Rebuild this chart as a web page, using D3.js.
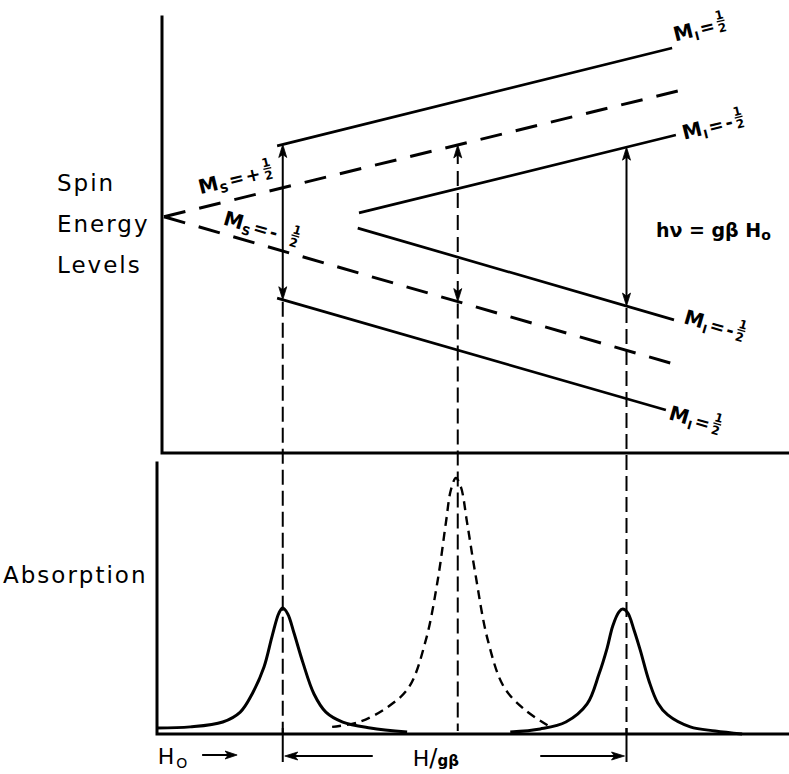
<!DOCTYPE html>
<html>
<head>
<meta charset="utf-8">
<script src="https://cdn.jsdelivr.net/npm/d3@7"></script>
<style>
  html, body { margin: 0; padding: 0; background: #fff; }
  svg { display: block; }
  text { font-family: "DejaVu Sans", "Liberation Sans", sans-serif; fill: #000; }
</style>
</head>
<body>
<svg id="chart" width="789" height="774"></svg>
<script>
// ---------------------------------------------------------------
// Hyperfine splitting of an S = 1/2, I = 1/2 system and the
// resulting absorption spectrum. Field H in arbitrary units,
// energy E in arbitrary units, absorption normalised to 1.
// ---------------------------------------------------------------

// Fields at which the three lines are drawn (H units)
const resonanceFields = [19, 47, 74];

// Electron Zeeman levels without hyperfine coupling (dashed): [H0, E0, H1, E1]
const electronLevels = [
  [0, 54.3, 82.2, 83.2],   // M_S = +1/2
  [0, 54.3, 81.0, 20.7]    // M_S = -1/2
];

// Hyperfine levels (solid): [H0, E0, H1, E1]
const hyperfineLevels = [
  [18.1, 70.6, 81.3, 93.1], // M_S = +1/2, M_I = +1/2
  [31.2, 55.2, 81.9, 73.1], // M_S = +1/2, M_I = -1/2
  [31.0, 51.7, 81.6, 30.6], // M_S = -1/2, M_I = -1/2
  [18.1, 35.6, 80.3, 9.9]   // M_S = -1/2, M_I = +1/2
];

// Level labels: text parts and anchor (H, E)
const levelLabelText = [
  { sub: "I", sign: "",  anchor: [81.8, 94.6] },
  { sub: "I", sign: "-", anchor: [83.2, 72.0] },
  { sub: "I", sign: "-", anchor: [83.0, 29.9] },
  { sub: "I", sign: "",  anchor: [80.6, 7.8] },
  { sub: "S", sign: "+", anchor: [5.8, 59.5] },
  { sub: "S", sign: "-", anchor: [9.3, 52.6] }
];

// Absorption traces, points [H, A]
const absorptionLow = [
  [-1.1, 0.020], [4.2, 0.024], [9.4, 0.043], [12.2, 0.082], [14.1, 0.153],
  [16.0, 0.259], [17.3, 0.380], [18.4, 0.471], [19.0, 0.490], [19.8, 0.467],
  [20.8, 0.392], [22.2, 0.278], [24.0, 0.153], [25.9, 0.082], [28.6, 0.043],
  [33.0, 0.020], [38.9, 0.004]
];
const absorptionCentre = [
  [26.9, 0.024], [31.2, 0.043], [35.8, 0.102], [39.2, 0.180], [41.9, 0.365],
  [43.8, 0.600], [45.1, 0.824], [45.9, 0.953], [46.7, 1.000], [47.5, 0.965],
  [48.5, 0.824], [49.8, 0.627], [51.8, 0.365], [54.4, 0.180], [57.8, 0.090],
  [61.8, 0.024]
];
const absorptionHigh = [
  [55.4, 0.004], [60.2, 0.016], [64.3, 0.043], [67.7, 0.114], [69.6, 0.231],
  [70.9, 0.333], [71.8, 0.420], [72.8, 0.475], [73.4, 0.486], [74.2, 0.471],
  [75.2, 0.404], [76.2, 0.325], [77.6, 0.204], [79.0, 0.118], [80.6, 0.071],
  [84.2, 0.024], [88.2, 0.008], [92.5, -0.004]
];

// Tails of the two splitting arrows under the spectrum (H units)
const splittingArrowTails = [33.4, 60.2];
// Field-direction arrow next to H0 (H units)
const fieldArrow = [6.1, 11.7];

// ---------------------------------------------------------------
const svg = d3.select("#chart");
svg.append("rect").attr("width", 789).attr("height", 774).attr("fill", "#fff");

const x  = d3.scaleLinear().domain([0, 100]).range([164, 789]);
const yE = d3.scaleLinear().domain([0, 100]).range([453, 18]);
const yA = d3.scaleLinear().domain([0, 1]).range([733, 478]);

const ink = "#000";

// Panel frames
const frame = svg.append("g").attr("fill", "none").attr("stroke", ink)
  .attr("stroke-width", 3).attr("stroke-linecap", "square");
frame.append("path").attr("d", `M162,17 V453 H789`);
frame.append("path").attr("d", `M157,463 V734 H789`);

// Energy at field h on a level
const energyAt = (lv, h) => lv[1] + (lv[3] - lv[1]) * (h - lv[0]) / (lv[2] - lv[0]);

// Dash pattern that starts and ends on a full dash
function evenDashes(d, dash = 22, period = 35) {
  const len = Math.hypot(x(d[2]) - x(d[0]), yE(d[3]) - yE(d[1]));
  const n = Math.max(1, Math.round((len - dash) / period));
  const gap = (len - dash) / n - dash;
  return `${dash},${gap}`;
}

// Dashed electron levels
svg.append("g").selectAll("line").data(electronLevels).join("line")
  .attr("x1", d => x(d[0])).attr("y1", d => yE(d[1]))
  .attr("x2", d => x(d[2])).attr("y2", d => yE(d[3]))
  .attr("stroke", ink).attr("stroke-width", 3)
  .attr("stroke-dasharray", d => evenDashes(d));

// Solid hyperfine levels
svg.append("g").selectAll("line").data(hyperfineLevels).join("line")
  .attr("x1", d => x(d[0])).attr("y1", d => yE(d[1]))
  .attr("x2", d => x(d[2])).attr("y2", d => yE(d[3]))
  .attr("stroke", ink).attr("stroke-width", 2.7);

// Arrow head, pointing along angle (deg) with tip at (tx, ty)
function arrowHead(g, tx, ty, angle, len = 13, half = 4) {
  g.append("path")
    .attr("d", `M0,0 L${-len},${-half} L${-len + 3},0 L${-len},${half} Z`)
    .attr("transform", `translate(${tx},${ty}) rotate(${angle})`)
    .attr("fill", ink).attr("stroke", ink).attr("stroke-width", 0.8);
}

// Transitions: upper level, lower level, dashed?
const transitions = [
  { up: hyperfineLevels[0], low: hyperfineLevels[3], h: resonanceFields[0], dashed: false },
  { up: electronLevels[0],  low: electronLevels[1],  h: resonanceFields[1], dashed: true },
  { up: hyperfineLevels[1], low: hyperfineLevels[2], h: resonanceFields[2], dashed: false }
];

const arrows = svg.append("g");
transitions.forEach(t => {
  const px = x(t.h);
  const yTop = yE(energyAt(t.up, t.h));
  const yBot = yE(energyAt(t.low, t.h));
  arrows.append("line")
    .attr("x1", px).attr("x2", px).attr("y1", yTop + 4).attr("y2", yBot - 4)
    .attr("stroke", ink).attr("stroke-width", 2)
    .attr("stroke-dasharray", t.dashed ? "15,7" : null);
  arrowHead(arrows, px, yTop, -90);
  arrowHead(arrows, px, yBot, 90);

  // projection down to the spectrum
  const baseY = t.dashed ? 731 : 734;
  arrows.append("line")
    .attr("x1", px).attr("x2", px).attr("y1", yBot + 2).attr("y2", baseY)
    .attr("stroke", ink).attr("stroke-width", 2).attr("stroke-dasharray", "15,6");
  if (!t.dashed) {
    arrows.append("line")
      .attr("x1", px).attr("x2", px).attr("y1", 728).attr("y2", 762)
      .attr("stroke", ink).attr("stroke-width", 2);
  }
});

// Absorption traces
const trace = d3.line().x(d => x(d[0])).y(d => yA(d[1])).curve(d3.curveCatmullRom.alpha(0.5));
svg.append("path").datum(absorptionLow).attr("d", trace)
  .attr("fill", "none").attr("stroke", ink).attr("stroke-width", 3);
svg.append("path").datum(absorptionHigh).attr("d", trace)
  .attr("fill", "none").attr("stroke", ink).attr("stroke-width", 3);
svg.append("path").datum(absorptionCentre).attr("d", trace)
  .attr("fill", "none").attr("stroke", ink).attr("stroke-width", 2.4)
  .attr("stroke-dasharray", "9,6");

// Splitting arrows under the spectrum
const hArrowY = 756;
const bottomArrows = svg.append("g");
[[splittingArrowTails[0], resonanceFields[0], 180], [splittingArrowTails[1], resonanceFields[2], 0]]
  .forEach(([tail, tip, ang]) => {
    const tipX = x(tip) + (ang === 180 ? 2 : -2);
    bottomArrows.append("line").attr("x1", x(tail)).attr("x2", tipX + (ang === 180 ? 8 : -8))
      .attr("y1", hArrowY).attr("y2", hArrowY).attr("stroke", ink).attr("stroke-width", 2);
    arrowHead(bottomArrows, tipX, hArrowY, ang, 13, 4);
  });
bottomArrows.append("line").attr("x1", x(fieldArrow[0])).attr("x2", x(fieldArrow[1]) - 8)
  .attr("y1", 755).attr("y2", 755).attr("stroke", ink).attr("stroke-width", 2);
arrowHead(bottomArrows, x(fieldArrow[1]), 755, 0, 12, 4);

// Quantum-number labels
function lineAngle(lv) {
  return Math.atan2(yE(lv[3]) - yE(lv[1]), x(lv[2]) - x(lv[0])) * 180 / Math.PI;
}
const labelAngles = [
  lineAngle(hyperfineLevels[0]), lineAngle(hyperfineLevels[1]),
  lineAngle(hyperfineLevels[2]), lineAngle(hyperfineLevels[3]),
  lineAngle(electronLevels[0]), lineAngle(electronLevels[1])
];
const fracGaps = [3, 3, 3, 3, 4, 14];

const labels = svg.append("g").attr("font-weight", "bold");
levelLabelText.forEach((L, i) => {
  const g = labels.append("g")
    .attr("transform", `translate(${x(L.anchor[0])},${yE(L.anchor[1])}) rotate(${labelAngles[i]})`);
  const t = g.append("text").attr("x", 0).attr("y", 0);
  t.append("tspan").attr("font-size", 20).text("M");
  t.append("tspan").attr("font-size", 12).attr("dy", 4).attr("dx", 0.5).text(L.sub);
  t.append("tspan").attr("font-size", 18).attr("dy", -4).attr("dx", 2).text("=");
  if (L.sign) t.append("tspan").attr("font-size", 18).attr("dx", 2).text(L.sign);
  const bb = t.node().getBBox();
  const fx = bb.x + bb.width + fracGaps[i] + 4;
  g.append("text").attr("x", fx).attr("y", -11).attr("font-size", 12)
    .attr("text-anchor", "middle").text("1");
  g.append("line").attr("x1", fx - 4).attr("x2", fx + 4).attr("y1", -9).attr("y2", -9)
    .attr("stroke", ink).attr("stroke-width", 1.3);
  g.append("text").attr("x", fx).attr("y", 2).attr("font-size", 12)
    .attr("text-anchor", "middle").text("2");
});

// Resonance condition
const cond = svg.append("text")
  .attr("x", x(78.7)).attr("y", yE(49.7))
  .attr("font-size", 19).attr("font-weight", "bold");
cond.append("tspan").text("hν = gβ H");
cond.append("tspan").attr("font-size", 14).attr("dy", 3).text("o");

// Side titles
const side = svg.append("g").attr("font-size", 23).attr("letter-spacing", 2);
[["Spin", 191], ["Energy", 232], ["Levels", 273]].forEach(([s, yy]) => {
  side.append("text").attr("x", 57).attr("y", yy).text(s);
});
side.append("text").attr("x", 3).attr("y", 583).text("Absorption");

// Field labels below the spectrum
const h0 = svg.append("text").attr("x", x(-1.0)).attr("y", 764).attr("font-size", 22);
h0.append("tspan").text("H");
h0.append("tspan").attr("font-size", 14).attr("dy", 4).attr("dx", 2).text("O");

const hg = svg.append("text").attr("x", x(39.8)).attr("y", 766).attr("font-size", 22);
hg.append("tspan").text("H");
hg.append("tspan").attr("font-size", 24).text("/");
hg.append("tspan").attr("font-size", 15).attr("font-weight", "bold").text("gβ");
</script>
</body>
</html>
